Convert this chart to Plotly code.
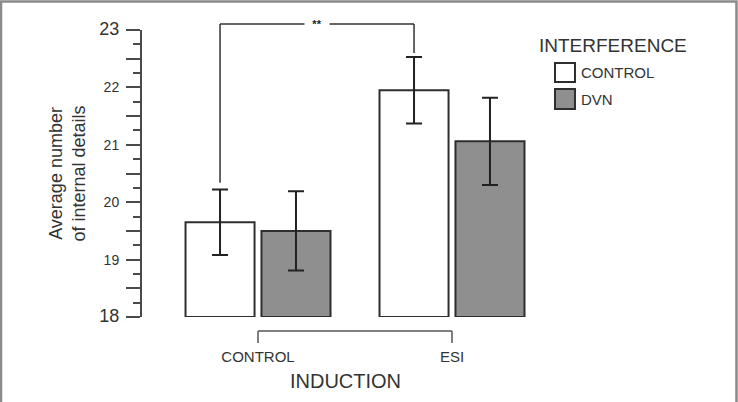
import plotly.graph_objects as go

# ---- data ----
induction = ["CONTROL", "ESI"]
interference = ["CONTROL", "DVN"]
means_control = [19.65, 21.95]   # interference = CONTROL (white)
err_control = [0.57, 0.58]
means_dvn = [19.50, 21.06]       # interference = DVN (gray)
err_dvn = [0.69, 0.76]
ytick_vals = [18, 18.5, 19, 19.5, 20, 20.5, 21, 21.5, 22, 22.5, 23]
ytick_text = ["<span style='font-size:18px'>18</span>", "", "19", "", "20", "", "21", "",
              "22", "", "<span style='font-size:18px'>23</span>"]
signif_label = "**"

# ---- layout constants ----
W, H = 738, 402
ML, MT, MB = 142, 30, 85
XR = [-0.598, 1.5]
PW = (XR[1] - XR[0]) * 194
MR = W - ML - PW
PH = H - MT - MB
BARGAP = 0.217
BARGROUPGAP = 0.091
FONT = "Liberation Sans, Arial, Helvetica, sans-serif"
DARK = "#2e2e2e"
AX = "#4a4a4a"
GRAY = "#8f8f8f"
Y0, Y1 = 18, 23

def px_x(p):
    return (p - ML) / PW

def px_y(p):
    return (H - MB - p) / PH

def val_to_paper(v):
    return (v - Y0) / (Y1 - Y0)

fig = go.Figure()
fig.add_trace(go.Bar(
    x=induction, y=[m - Y0 for m in means_control], base=Y0, name=interference[0],
    marker=dict(color="white", line=dict(color=DARK, width=2)),
    error_y=dict(type="data", array=err_control, color="#222", thickness=2, width=8),
    showlegend=False))
fig.add_trace(go.Bar(
    x=induction, y=[m - Y0 for m in means_dvn], base=Y0, name=interference[1],
    marker=dict(color=GRAY, line=dict(color=DARK, width=2)),
    error_y=dict(type="data", array=err_dvn, color="#222", thickness=2, width=8),
    showlegend=False))

# significance bracket between CONTROL/CONTROL and ESI/CONTROL bars
sub = (1 - BARGAP) / 2
xa = 0 - sub / 2
xb = 1 - sub / 2
ya = val_to_paper(means_control[0] + err_control[0] + 0.12)
yb = val_to_paper(means_control[1] + err_control[1] + 0.07)
ytop = px_y(24)
shapes = []
line = dict(color="#333", width=1.5)
shapes.append(dict(type="line", xref="x", yref="paper", x0=xa, x1=xa, y0=ya, y1=ytop, line=line))
shapes.append(dict(type="line", xref="x", yref="paper", x0=xa, x1=xb, y0=ytop, y1=ytop, line=line))
shapes.append(dict(type="line", xref="x", yref="paper", x0=xb, x1=xb, y0=yb, y1=ytop, line=line))

# x-axis bracket
yb0 = px_y(331)
yb1 = px_y(343)
bline = dict(color="#555", width=1.5)
shapes.append(dict(type="line", xref="x", yref="paper", x0=0, x1=1, y0=yb0, y1=yb0, line=bline))
shapes.append(dict(type="line", xref="x", yref="paper", x0=0, x1=0, y0=yb0, y1=yb1, line=bline))
shapes.append(dict(type="line", xref="x", yref="paper", x0=1, x1=1, y0=yb0, y1=yb1, line=bline))

# legend boxes
shapes.append(dict(type="rect", xref="paper", yref="paper", x0=px_x(555), x1=px_x(575),
                   y0=px_y(82), y1=px_y(63), fillcolor="white", line=dict(color=DARK, width=2)))
shapes.append(dict(type="rect", xref="paper", yref="paper", x0=px_x(555), x1=px_x(575),
                   y0=px_y(109), y1=px_y(89), fillcolor=GRAY, line=dict(color=DARK, width=2)))

# outer frame
shapes.append(dict(type="rect", xref="paper", yref="paper", x0=px_x(1), x1=px_x(736.5),
                   y0=px_y(420), y1=px_y(1.5), line=dict(color="#8a8a8a", width=2.5),
                   fillcolor="rgba(0,0,0,0)", layer="above"))

annotations = [
    dict(x=(xa + xb) / 2, y=ytop, xref="x", yref="paper", xanchor="center", yanchor="middle",
         text="<b>" + signif_label + "</b>",
         showarrow=False, bgcolor="white", width=22, borderpad=1,
         font=dict(size=11, color="#222", family=FONT)),
    dict(x=px_x(67), y=0.5, xref="paper", yref="paper", textangle=-90,
         xanchor="center", yanchor="middle",
         text="Average number<br>of internal details", showarrow=False,
         font=dict(size=18, color="#333", family=FONT)),
    dict(x=px_x(537), y=px_y(45), xref="paper", yref="paper", xanchor="left", yanchor="middle",
         text="INTERFERENCE", showarrow=False, font=dict(size=19, color="#333", family=FONT)),
    dict(x=px_x(579), y=px_y(72), xref="paper", yref="paper", xanchor="left", yanchor="middle",
         text=interference[0], showarrow=False, font=dict(size=15, color="#333", family=FONT)),
    dict(x=px_x(579), y=px_y(99), xref="paper", yref="paper", xanchor="left", yanchor="middle",
         text=interference[1], showarrow=False, font=dict(size=15, color="#333", family=FONT)),
]

fig.update_layout(
    width=W, height=H,
    margin=dict(l=ML, r=MR, t=MT, b=MB, autoexpand=False),
    paper_bgcolor="white", plot_bgcolor="white",
    barmode="group", bargap=BARGAP, bargroupgap=BARGROUPGAP,
    font=dict(family=FONT, color="#333"),
    shapes=shapes, annotations=annotations,
    xaxis=dict(range=XR, showline=False, showgrid=False, zeroline=False,
               ticks="", ticklabelstandoff=29, tickfont=dict(size=15, color="#333"),
               title=dict(text="INDUCTION", font=dict(size=20, color="#333"), standoff=9)),
    yaxis=dict(range=[Y0, Y1], showgrid=False, zeroline=False,
               showline=True, linecolor=AX, linewidth=2,
               tickmode="array", tickvals=ytick_vals, ticktext=ytick_text,
               ticks="outside", ticklen=14, tickwidth=2, tickcolor=AX,
               ticklabelstandoff=4,
               tickfont=dict(size=14, color="#333"),
               minor=dict(dtick=0.25, ticks="outside", ticklen=7, tickwidth=2, tickcolor=AX)),
)

fig.write_html("out.html")
